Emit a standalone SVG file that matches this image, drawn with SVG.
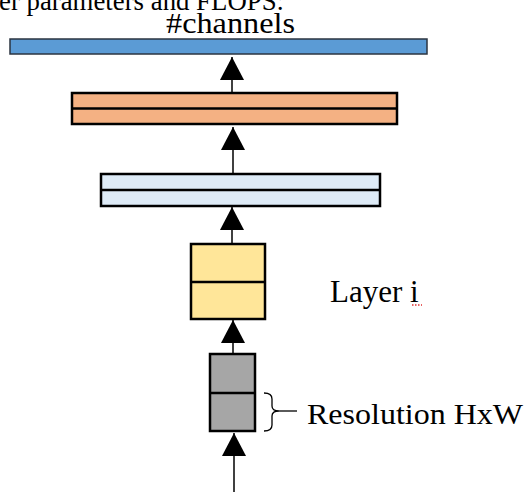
<svg xmlns="http://www.w3.org/2000/svg" width="528" height="492" viewBox="0 0 528 492">
<style>
  .lbl { font-family: "Liberation Serif", "Times New Roman", serif; fill: #000; }
  .box { stroke: #000; stroke-width: 2.5; }
  .div { stroke: #000; stroke-width: 2.5; }
  .conn { stroke: #000; stroke-width: 1.5; fill: none; }
  .brace { stroke: #000; stroke-width: 1.3; fill: none; }
</style>
<defs>
  <marker id="ah" markerUnits="userSpaceOnUse" markerWidth="24" markerHeight="24" viewBox="0 0 23 24" refX="23" refY="12" orient="auto">
    <polygon points="0,0 23,12 0,24" fill="#000"/>
  </marker>
</defs>
<rect width="528" height="492" fill="#fff"/>
<text class="lbl" x="-1" y="10" font-size="27" textLength="285" lengthAdjust="spacingAndGlyphs">er parameters and FLOPS:</text>

<g id="node-output">
  <rect x="10" y="39" width="417" height="15" fill="#5B9BD5" stroke="#2b3440" stroke-width="1.5"/>
  <text class="lbl" x="166" y="33" font-size="30" textLength="129" lengthAdjust="spacingAndGlyphs">#channels</text>
</g>
<g id="node-orange">
  <rect class="box" x="72" y="93" width="325" height="31" fill="#F4B183"/>
  <line class="div" x1="72" y1="108.5" x2="397" y2="108.5"/>
</g>
<g id="node-lightblue">
  <rect class="box" x="101" y="174" width="279" height="32" fill="#DEEBF7"/>
  <line class="div" x1="101" y1="190" x2="380" y2="190"/>
</g>
<g id="node-layer-i">
  <rect class="box" x="191" y="244" width="74" height="75" fill="#FFE699"/>
  <line class="div" x1="191" y1="282" x2="265" y2="282"/>
  <text class="lbl" x="330" y="302" font-size="31">Layer i</text>
  <line x1="412" y1="305" x2="422" y2="305" stroke="#e03030" stroke-width="1.3" stroke-dasharray="1.5,1.5"/>
</g>
<g id="node-input">
  <rect class="box" x="210" y="354" width="45" height="77" fill="#A6A6A6"/>
  <line class="div" x1="210" y1="393" x2="255" y2="393"/>
  <path class="brace" d="M264,393 Q272,393 272,399 L272,406 Q272,411 279,411 Q272,411 272,416 L272,425 Q272,431 264,431"/>
  <line class="brace" x1="279" y1="411" x2="297" y2="411"/>
  <text class="lbl" x="307" y="424" font-size="30" textLength="216" lengthAdjust="spacingAndGlyphs">Resolution HxW</text>
</g>

<g id="connectors">
  <line class="conn" x1="232" y1="93" x2="232" y2="57" marker-end="url(#ah)"/>
  <line class="conn" x1="233" y1="174" x2="233" y2="127" marker-end="url(#ah)"/>
  <line class="conn" x1="232" y1="244" x2="232" y2="207" marker-end="url(#ah)"/>
  <line class="conn" x1="233" y1="354" x2="233" y2="320" marker-end="url(#ah)"/>
  <line class="conn" x1="234" y1="492" x2="234" y2="433" marker-end="url(#ah)"/>
</g>
</svg>
